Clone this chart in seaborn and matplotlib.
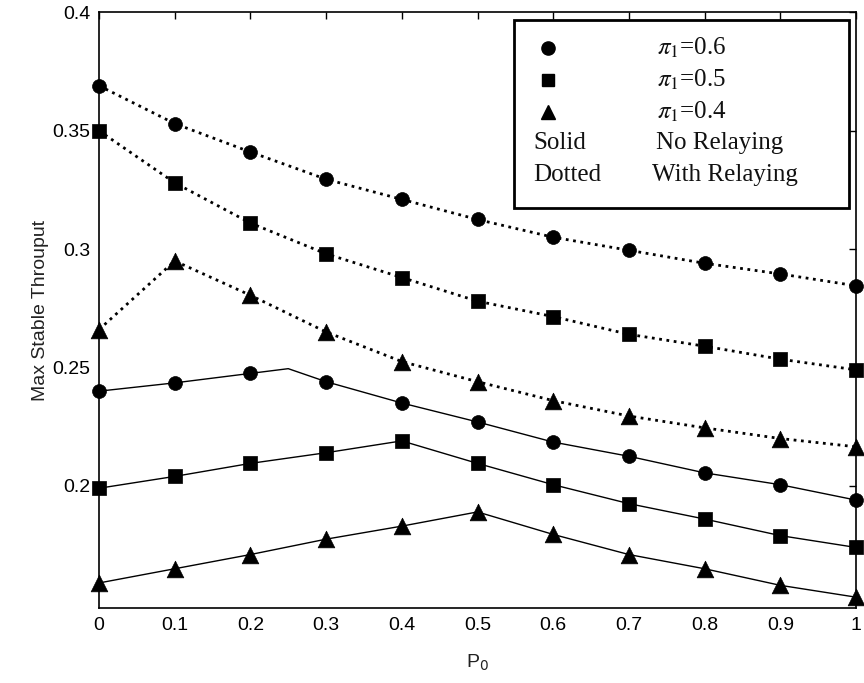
import matplotlib
matplotlib.use("Agg")
import matplotlib.pyplot as plt
import seaborn as sns
import pandas as pd
from matplotlib.patches import Rectangle

# ---------------- data ----------------
p0 = [0.0, 0.1, 0.2, 0.3, 0.4, 0.5, 0.6, 0.7, 0.8, 0.9, 1.0]

relay_06 = [0.369, 0.353, 0.341, 0.3295, 0.321, 0.3125, 0.305, 0.2995, 0.294, 0.2895, 0.2845]
relay_05 = [0.350, 0.328, 0.311, 0.298, 0.288, 0.278, 0.2715, 0.264, 0.259, 0.2535, 0.249]
relay_04 = [0.266, 0.295, 0.2805, 0.265, 0.2525, 0.244, 0.236, 0.2295, 0.2245, 0.220, 0.2165]

norelay_06 = [0.240, 0.2435, 0.2475, 0.244, 0.235, 0.227, 0.2185, 0.2125, 0.2055, 0.2005, 0.194]
norelay_05 = [0.199, 0.204, 0.2095, 0.214, 0.219, 0.2095, 0.2005, 0.1925, 0.186, 0.179, 0.174]
norelay_04 = [0.159, 0.165, 0.171, 0.1775, 0.183, 0.189, 0.1795, 0.171, 0.165, 0.158, 0.153]

# extra line vertex (no marker) read from the curve of pi1=0.6, no relaying
norelay_06_extra_p0 = [0.25]
norelay_06_extra = [0.2495]

xtick_vals = [0, 0.1, 0.2, 0.3, 0.4, 0.5, 0.6, 0.7, 0.8, 0.9, 1.0]
xtick_labels = ["0", "0.1", "0.2", "0.3", "0.4", "0.5", "0.6", "0.7", "0.8", "0.9", "1"]
ytick_vals = [0.2, 0.25, 0.3, 0.35, 0.4]
ytick_labels = ["0.2", "0.25", "0.3", "0.35", "0.4"]

legend_rows = [r"$\pi_1$=0.6", r"$\pi_1$=0.5", r"$\pi_1$=0.4", "No Relaying", "With Relaying"]
legend_left = ["Solid", "Dotted"]

# ---------------- style ----------------
sns.set_theme(style="white")
plt.rcParams["font.family"] = ["Liberation Sans", "DejaVu Sans"]

W, H = 864, 683
fig = plt.figure(figsize=(W / 100, H / 100), dpi=100)
ax_l, ax_r, ax_t, ax_b = 99, 856, 12.3, 608.3
ax = fig.add_axes([ax_l / W, 1 - ax_b / H, (ax_r - ax_l) / W, (ax_b - ax_t) / H])

# line data frames
series = {
    "relay_06": (p0, relay_06, ":", "o"),
    "relay_05": (p0, relay_05, ":", "s"),
    "relay_04": (p0, relay_04, ":", "^"),
    "norelay_06": (p0, norelay_06, "-", "o"),
    "norelay_05": (p0, norelay_05, "-", "s"),
    "norelay_04": (p0, norelay_04, "-", "^"),
}
msize = {"o": 10.0 ** 2, "s": 10.5 ** 2, "^": 12.0 ** 2}

for name, (xs, ys, ls, mk) in series.items():
    lx, ly = list(xs), list(ys)
    if name == "norelay_06":
        lx = lx + norelay_06_extra_p0
        ly = ly + norelay_06_extra
    ldf = pd.DataFrame({"P0": lx, "v": ly}).sort_values("P0")
    sns.lineplot(data=ldf, x="P0", y="v", ax=ax, color="black", sort=True,
                 linestyle=ls, linewidth=2.0 if ls == ":" else 1.0, zorder=2)
    mdf = pd.DataFrame({"P0": xs, "v": ys})
    sns.scatterplot(data=mdf, x="P0", y="v", ax=ax, color="black", marker=mk,
                    s=msize[mk], edgecolor="black", linewidth=0.5, zorder=3,
                    clip_on=False)

ax.set_xlim(0, 1)
ax.set_ylim(0.1483, 0.4)
ax.set_xticks(xtick_vals)
ax.set_xticklabels(xtick_labels)
ax.set_yticks(ytick_vals)
ax.set_yticklabels(ytick_labels)
ax.tick_params(direction="in", length=5, width=1.0, top=True, right=True,
               labelsize=14, colors="black", pad=6)
for sp in ax.spines.values():
    sp.set_color("black")
    sp.set_linewidth(1.2)

ax.set_xlabel(r"P$_0$", fontsize=14, math_fontfamily="dejavusans", color="#222222")
ax.xaxis.set_label_coords(0.5, -0.075)
ax.set_ylabel("Max Stable Throuput", fontsize=14, color="#222222")
ax.yaxis.set_label_coords(-0.066, 0.5)

# ---------------- legend (manual) ----------------
def axx(px):
    return (px - ax_l) / (ax_r - ax_l)

def axy(py):
    return (ax_b - py) / (ax_b - ax_t)

box = Rectangle((axx(514), axy(208)), axx(849) - axx(514), axy(20) - axy(208),
                transform=ax.transAxes, facecolor="white", edgecolor="black",
                linewidth=2.0, zorder=5, clip_on=False)
ax.add_patch(box)

row_y = [48.3, 80, 111.7, 143.3, 175]
leg_markers = [("o", 9.5), ("s", 8.5), ("^", 10.5)]
for (mk, ms), py in zip(leg_markers, row_y[:3]):
    ax.plot([axx(548)], [axy(py)], marker=mk, markersize=ms, color="black",
            linestyle="none", transform=ax.transAxes, zorder=6, clip_on=False)

serif = ["Liberation Serif", "DejaVu Serif"]
text_x = [657, 657, 657, 656, 652]
for txt, px, py in zip(legend_rows, text_x, row_y):
    ax.text(axx(px), axy(py), txt, transform=ax.transAxes, ha="left", va="center",
            fontsize=18, family=serif, math_fontfamily="stix", color="#111111", zorder=6)
for txt, py in zip(legend_left, row_y[3:]):
    ax.text(axx(533), axy(py), txt, transform=ax.transAxes, ha="left", va="center",
            fontsize=18, family=serif, color="#111111", zorder=6)

fig.savefig("out.png", dpi=100, facecolor="white")
